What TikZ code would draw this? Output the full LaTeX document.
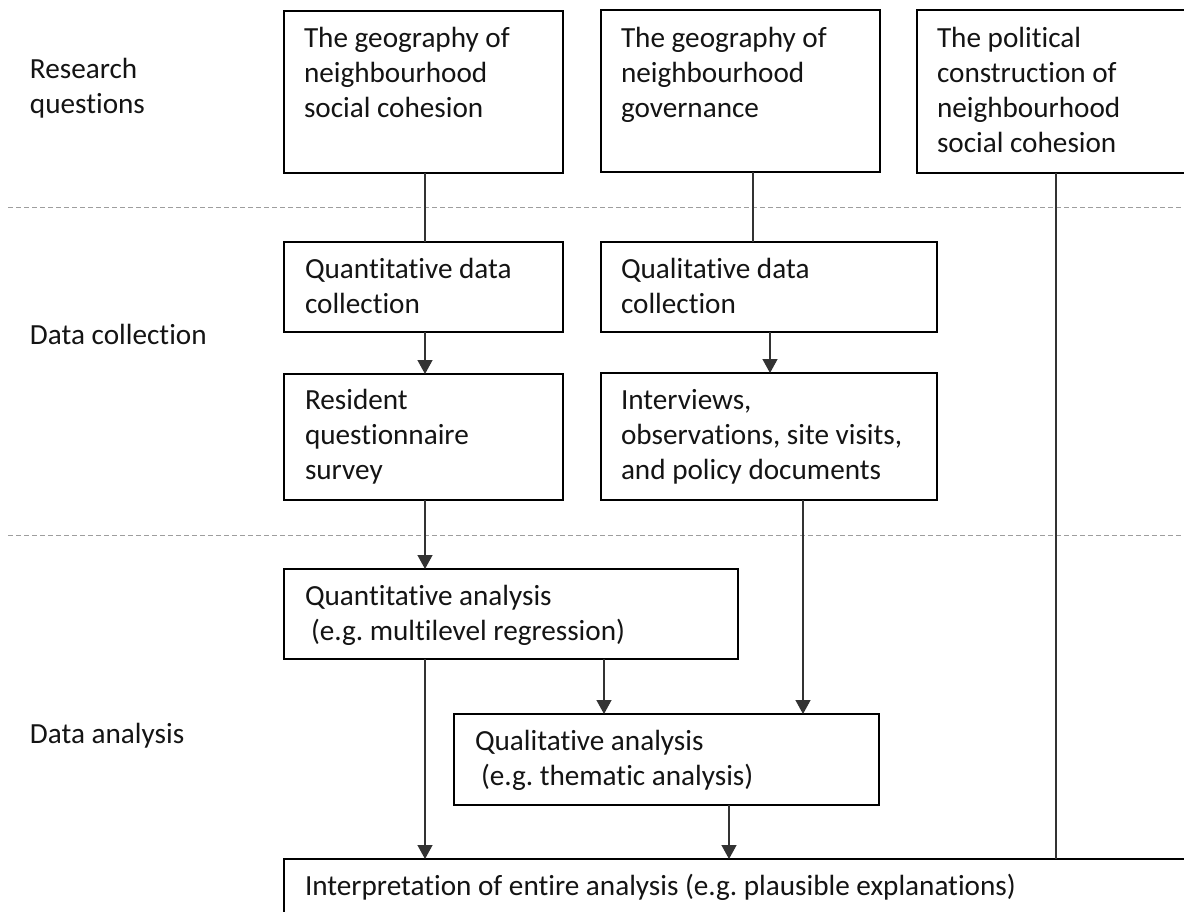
\documentclass[tikz,border=0pt]{standalone}
\usepackage{fontspec}
\setmainfont[Ligatures=NoCommon]{Carlito}
\usetikzlibrary{arrows.meta}
\frenchspacing
% lines of a text block, first baseline at the node's base
\newcommand\stackedlines[1]{\begin{tabular}[t]{@{}l@{}}#1\end{tabular}}
\begin{document}
\begin{tikzpicture}[x=1pt,y=-1pt,
  stagebox/.style={draw=black, line width=2.2pt, rectangle, inner sep=0pt, outer sep=0pt, anchor=north west},
  boxtext/.style={anchor=base west, inner sep=0pt, outer sep=0pt, font=\fontsize{29.2}{35}\selectfont, text=black!92},
  link/.style={line width=1.3pt, draw=black!80},
  flow/.style={link, -{Triangle[width=15pt,length=14pt]}},
  divider/.style={draw=black!38, line width=1pt, dash pattern=on 5pt off 3pt}]
\clip (0,0) rectangle (1184,911);
\fill[white] (0,0) rectangle (1184,911);

% stage dividers
\draw[divider] (8,207) -- (1184,207);
\draw[divider] (8,535) -- (1184,535);

% stage labels
\node[boxtext] (lblRQ) at (30,78) {\stackedlines{Research\\questions}};
\node[boxtext] (lblDC) at (30,344) {Data collection};
\node[boxtext] (lblDA) at (30,743) {Data analysis};

% research questions
\node[stagebox, minimum width=279pt, minimum height=162pt] (rqA) at (284,11) {};
\node[stagebox, minimum width=279pt, minimum height=162pt] (rqB) at (601,10) {};
\node[stagebox, minimum width=300pt, minimum height=163pt] (rqC) at (917,10) {};
\node[boxtext] (rqAt) at (304,47) {\stackedlines{The geography of\\neighbourhood\\social cohesion}};
\node[boxtext] (rqBt) at (621,47) {\stackedlines{The geography of\\neighbourhood\\governance}};
\node[boxtext] (rqCt) at (937,47) {\stackedlines{The political\\construction of\\neighbourhood\\social cohesion}};

% data collection
\node[stagebox, minimum width=279pt, minimum height=90pt] (dcQn) at (284,242) {};
\node[stagebox, minimum width=336pt, minimum height=90pt] (dcQl) at (601,242) {};
\node[stagebox, minimum width=279pt, minimum height=126pt] (survey) at (284,374) {};
\node[stagebox, minimum width=336pt, minimum height=127pt] (fieldwork) at (601,373) {};
\node[boxtext] (dcQnt) at (305,278) {\stackedlines{Quantitative data\\collection}};
\node[boxtext] (dcQlt) at (621,278) {\stackedlines{Qualitative data\\collection}};
\node[boxtext] (surveyt) at (305,409) {\stackedlines{Resident\\questionnaire\\survey}};
\node[boxtext] (fieldworkt) at (621,409) {\stackedlines{Interviews,\\observations, site visits,\\and policy documents}};

% data analysis
\node[stagebox, minimum width=454pt, minimum height=90pt] (qnA) at (284,569) {};
\node[stagebox, minimum width=425pt, minimum height=91pt] (qlA) at (454,714) {};
\node[stagebox, minimum width=950pt, minimum height=120pt] (interp) at (284,859) {};
\node[boxtext] (qnAt) at (305,605) {\stackedlines{Quantitative analysis\\\hspace*{6pt}(e.g. multilevel regression)}};
\node[boxtext] (qlAt) at (475,750) {\stackedlines{Qualitative analysis\\\hspace*{6pt}(e.g. thematic analysis)}};
\node[boxtext] (interpt) at (305,895) {Interpretation of entire analysis (e.g. plausible explanations)};

% connector columns
\coordinate (colQn) at (425,0);
\coordinate (colRqB) at (753,0);
\coordinate (colDcQl) at (770,0);
\coordinate (colField) at (803,0);
\coordinate (colMid) at (604,0);
\coordinate (colQl) at (729,0);
\coordinate (colRqC) at (1056,0);

% connectors
\draw[link] (rqA.south -| colQn) -- (dcQn.north -| colQn);
\draw[link] (rqB.south -| colRqB) -- (dcQl.north -| colRqB);
\draw[link] (rqC.south -| colRqC) -- (interp.north -| colRqC);
\draw[flow] (dcQn.south -| colQn) -- (survey.north -| colQn);
\draw[flow] (dcQl.south -| colDcQl) -- (fieldwork.north -| colDcQl);
\draw[flow] (survey.south -| colQn) -- (qnA.north -| colQn);
\draw[flow] (fieldwork.south -| colField) -- (qlA.north -| colField);
\draw[flow] (qnA.south -| colMid) -- (qlA.north -| colMid);
\draw[flow] (qnA.south -| colQn) -- (interp.north -| colQn);
\draw[flow] (qlA.south -| colQl) -- (interp.north -| colQl);
\end{tikzpicture}
\end{document}
